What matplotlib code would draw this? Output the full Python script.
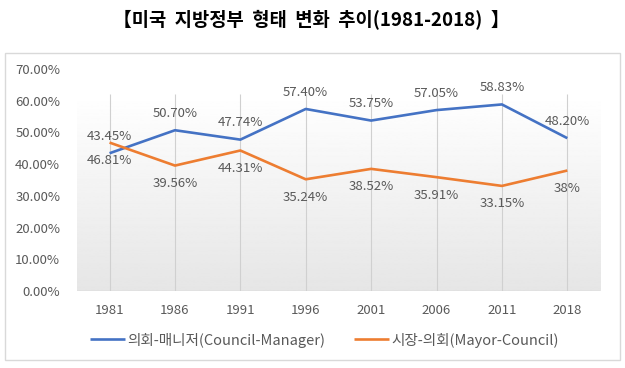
import numpy as np
import matplotlib
matplotlib.use("Agg")
import matplotlib.pyplot as plt
from matplotlib.patches import Rectangle

plt.rcParams["font.family"] = ["Noto Sans CJK KR", "DejaVu Sans"]

years = ["1981", "1986", "1991", "1996", "2001", "2006", "2011", "2018"]
council_manager = [43.45, 50.70, 47.74, 57.40, 53.75, 57.05, 58.83, 48.20]
mayor_council = [46.81, 39.56, 44.31, 35.24, 38.52, 35.91, 33.15, 38.0]
cm_labels = ["43.45%", "50.70%", "47.74%", "57.40%", "53.75%", "57.05%", "58.83%", "48.20%"]
mc_labels = ["46.81%", "39.56%", "44.31%", "35.24%", "38.52%", "35.91%", "33.15%", "38%"]
yticks = [0, 10, 20, 30, 40, 50, 60, 70]

text_col = "#595959"
blue = "#4472C4"
orange = "#ED7D31"

fig = plt.figure(figsize=(6.25, 3.68), dpi=100)
fig.patch.set_facecolor("white")

# outer chart frame
fig.patches.append(Rectangle((0.008, 0.022), 0.984, 0.834, transform=fig.transFigure,
                             fill=False, edgecolor="#d9d9d9", linewidth=1))

fig.text(0.498, 0.946, "【미국  지방정부  형태  변화  추이(1981-2018)  】", ha="center", va="center",
         fontsize=13.5, fontweight="bold", color="black")

ax = fig.add_axes([0.123, 0.209, 0.837, 0.6035])
x = np.arange(len(years))

# gradient background (white top -> light grey bottom)
grad = np.linspace(1.0, 0.90, 256).reshape(-1, 1)
ax.imshow(grad, cmap="gray", vmin=0, vmax=1, aspect="auto",
          extent=[-0.5, len(years) - 0.5, 0, 62], origin="upper", zorder=0)

ax.vlines(x, 0, 62, color="#d0d0d0", linewidth=0.8, zorder=1)
ax.axhline(0, color="#d0d0d0", linewidth=1, zorder=1)

ax.plot(x, council_manager, color=blue, linewidth=1.9, zorder=3,
        label="의회-매니저(Council-Manager)", solid_capstyle="butt")
ax.plot(x, mayor_council, color=orange, linewidth=1.9, zorder=3,
        label="시장-의회(Mayor-Council)", solid_capstyle="butt")

for xi, v, s in zip(x, council_manager, cm_labels):
    ax.annotate(s, (xi, v), xytext=(0, 12), textcoords="offset points",
                ha="center", va="center", fontsize=9.5, color=text_col)
for xi, v, s in zip(x, mayor_council, mc_labels):
    ax.annotate(s, (xi, v), xytext=(0, -13), textcoords="offset points",
                ha="center", va="center", fontsize=9.5, color=text_col)

ax.set_xlim(-0.5, len(years) - 0.5)
ax.set_ylim(0, 70)
ax.set_xticks(x)
ax.set_xticklabels(years)
ax.set_yticks(yticks)
ax.set_yticklabels([f"{t:.2f}%" for t in yticks])
ax.tick_params(axis="both", length=0, labelsize=9.5, colors=text_col)
ax.tick_params(axis="x", pad=9)
ax.tick_params(axis="y", pad=12)
for sp in ax.spines.values():
    sp.set_visible(False)

fig.legend(loc="center left", bbox_to_anchor=(0.123, 0.076), ncol=2, frameon=False,
           fontsize=10.5, handlelength=2.4, handletextpad=0.15, columnspacing=2.0,
           labelcolor=text_col)

fig.savefig("out.png", dpi=100)
